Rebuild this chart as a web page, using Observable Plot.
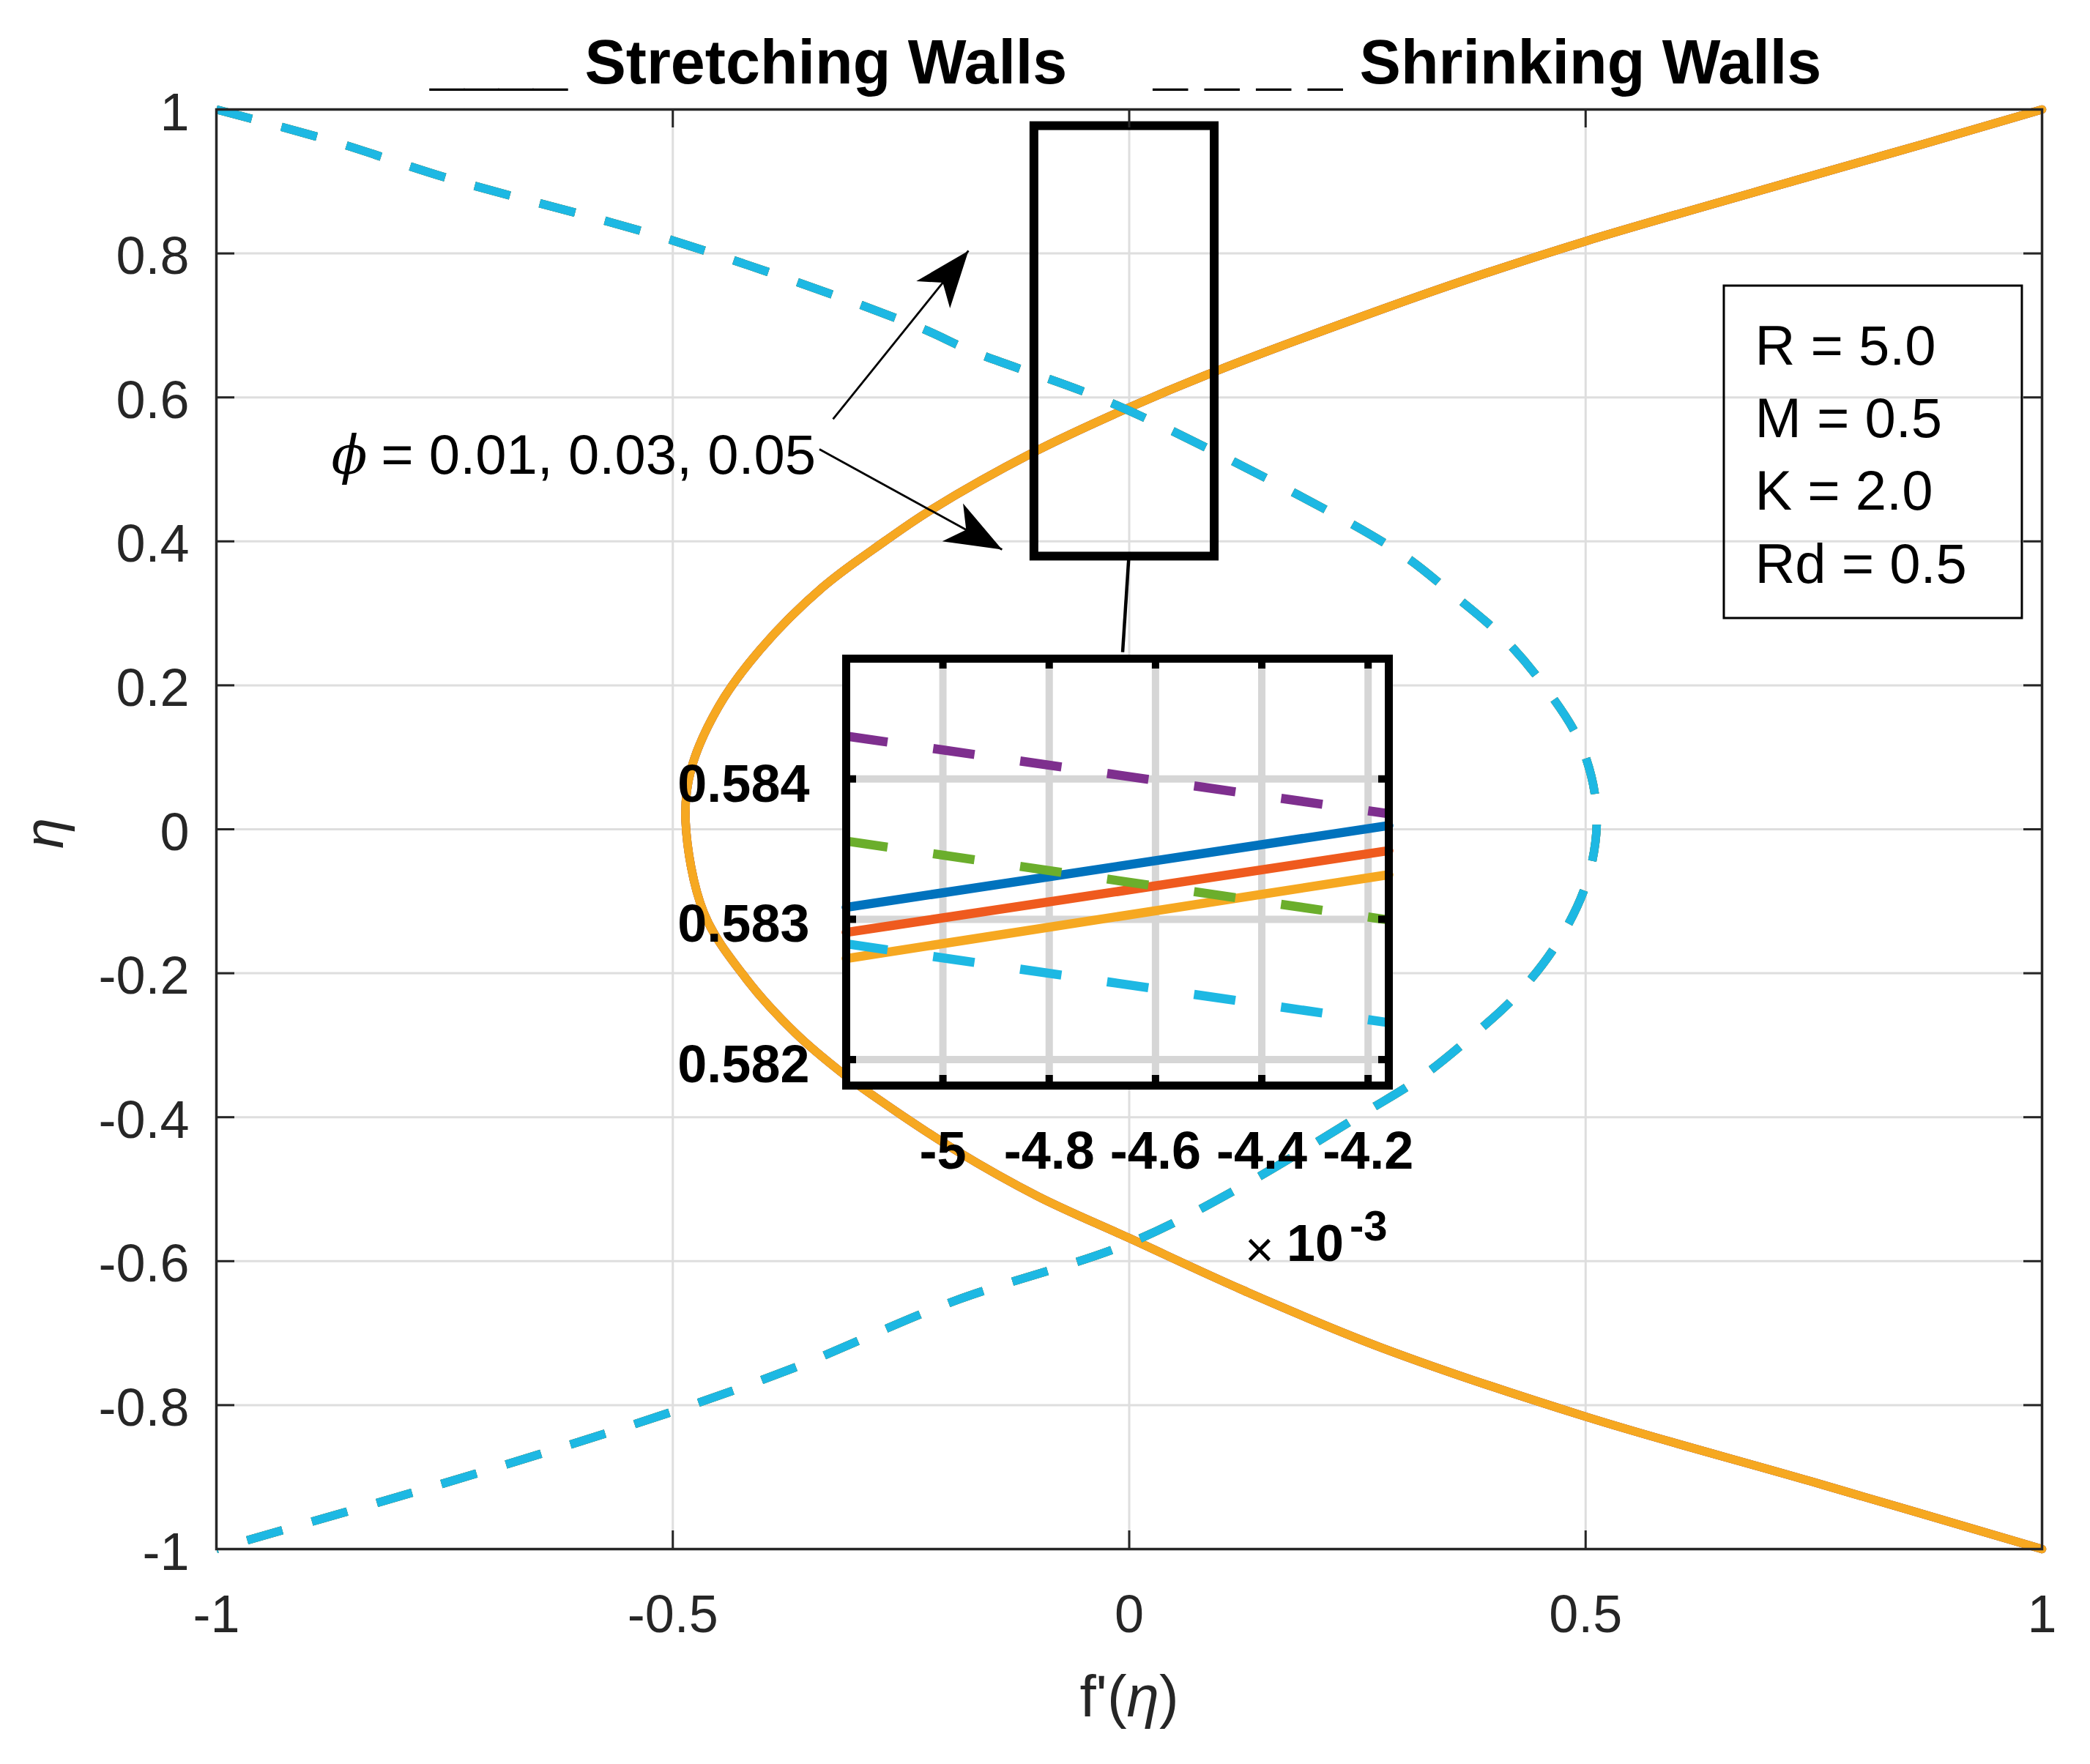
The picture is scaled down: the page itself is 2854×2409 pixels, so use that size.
<!DOCTYPE html>
<html>
<head>
<meta charset="utf-8">
<script src="https://cdn.jsdelivr.net/npm/d3@7"></script>
<script src="https://cdn.jsdelivr.net/npm/@observablehq/plot@0.6"></script>
<style>
  html, body { margin: 0; padding: 0; background: #fff; }
  #wrap { position: relative; width: 2854px; height: 2409px; overflow: hidden; background: #fff; }
  #wrap > svg { position: absolute; }
</style>
</head>
<body>
<div id="wrap"></div>
<script>
// ---------------- data ----------------
const xTicks = [-1, -0.5, 0, 0.5, 1];
const yTicks = [-1, -0.8, -0.6, -0.4, -0.2, 0, 0.2, 0.4, 0.6, 0.8, 1];
const phiValues = [0.01, 0.03, 0.05];

// Stretching walls (solid) : eta vs f'(eta)  (the three phi curves coincide at this scale)
const stretchEta = [1.0, 0.952, 0.905, 0.817, 0.768, 0.722, 0.636, 0.586, 0.523, 0.443, 0.400, 0.336, 0.250, 0.170, 0.083, 0.011, -0.116, -0.207, -0.284, -0.339, -0.374, -0.446, -0.510, -0.568, -0.640, -0.720, -0.816, -0.906, -1.0];
const stretchFp  = [1.0, 0.870, 0.740, 0.500, 0.380, 0.276, 0.094, 0.000, -0.106, -0.218, -0.268, -0.336, -0.404, -0.450, -0.480, -0.486, -0.466, -0.420, -0.365, -0.314, -0.276, -0.190, -0.100, 0.000, 0.124, 0.276, 0.500, 0.747, 1.0];

// Shrinking walls (dashed)
const shrinkEta = [1.0, 0.956, 0.904, 0.818, 0.700, 0.663, 0.600, 0.522, 0.387, 0.328, 0.267, 0.195, 0.117, 0.026, -0.066, -0.152, -0.227, -0.288, -0.347, -0.392, -0.497, -0.575, -0.656, -0.748, -0.808, -0.895, -1.0];
const shrinkFp  = [-1.0, -0.873, -0.745, -0.500, -0.235, -0.170, -0.034, 0.097, 0.293, 0.353, 0.409, 0.457, 0.495, 0.512, 0.503, 0.472, 0.427, 0.375, 0.317, 0.260, 0.122, 0.000, -0.193, -0.367, -0.498, -0.715, -1.0];

// Inset (f' in units of 1e-3)
const insetXTicks = [-5, -4.8, -4.6, -4.4, -4.2];
const insetYTicks = [0.582, 0.583, 0.584];
const insetXDomain = [-5.182, -4.161];
const insetYDomain = [0.581815, 0.584857];
const insetFp = [-5.182, -4.161];
const insetStretch = [ [0.583085, 0.583668], [0.582906, 0.583489], [0.582720, 0.583318] ]; // phi 0.01, 0.03, 0.05
const insetShrink  = [ [0.584305, 0.583752], [0.583557, 0.582995], [0.582825, 0.582263] ];

const stretchColors = ["#0072BD", "#EF5A1E", "#F6A821"];
const shrinkColors  = ["#7E2F8E", "#6BAE2C", "#1DB8E3"];

const paramLabels = ["R = 5.0", "M = 0.5", "K = 2.0", "Rd = 0.5"];
const phiLabel = "= 0.01, 0.03, 0.05";
const titleText = "____ Stretching Walls     _ _ _ _ Shrinking Walls";

// annotation geometry in data units
const zoomBox = [{x1: -0.104, x2: 0.0935, y1: 0.379, y2: 0.977}];
const connector = [{x1: -0.0004, y1: 0.379, x2: -0.0072, y2: 0.246}];
const arrows = [
  {x1: -0.3245, y1: 0.5697, x2: -0.1761, y2: 0.8037},
  {x1: -0.3394, y1: 0.5280, x2: -0.1393, y2: 0.3886}
];
const paramBox = [{x1: 0.6518, x2: 0.9783, y1: 0.2930, y2: 0.7548}];

// ---------------- layout ----------------
const FONT = "'Liberation Sans', Arial, Helvetica, sans-serif";
const W = 2854, H = 2409;
const mL = 295, mR = 66, mT = 149, mB = 294;
const fW = W - mL - mR, fH = H - mT - mB;
const kx = fW / 2, ky = fH / 2;
const tickLen = 25;
const fmt = d => String(d);

const rows = (eta, fp) => eta.map((e, i) => ({eta: e, fp: fp[i]}));
const stretchRows = rows(stretchEta, stretchFp);
const shrinkRows = rows(shrinkEta, shrinkFp);

const arrowHead = {
  draw(ctx) {
    ctx.moveTo(0, 0);
    ctx.lineTo(29.5, 77);
    ctx.lineTo(0, 56);
    ctx.lineTo(-29.5, 77);
    ctx.closePath();
  }
};
const headAngle = d => {
  const sdx = (d.x2 - d.x1) * kx;
  const sdy = -(d.y2 - d.y1) * ky;
  return Math.atan2(sdx, -sdy) * 180 / Math.PI;
};

const main = Plot.plot({
  width: W, height: H,
  marginLeft: mL, marginRight: mR, marginTop: mT, marginBottom: mB,
  x: {domain: [-1, 1]},
  y: {domain: [-1, 1]},
  style: {fontFamily: FONT, fontSize: "72px", color: "#262626", background: "white", overflow: "visible"},
  marks: [
    Plot.ruleX(xTicks, {stroke: "#DEDEDE", strokeWidth: 3}),
    Plot.ruleY(yTicks, {stroke: "#DEDEDE", strokeWidth: 3}),
    ...phiValues.map((phi, k) => Plot.line(stretchRows, {
      x: "fp", y: "eta", stroke: stretchColors[k], strokeWidth: 11.5, curve: "catmull-rom"
    })),
    ...phiValues.map((phi, k) => Plot.line(shrinkRows, {
      x: "fp", y: "eta", stroke: shrinkColors[k], strokeWidth: 11.5, curve: "catmull-rom",
      strokeDasharray: "50,42", strokeLinecap: "butt"
    })),
    Plot.rect(zoomBox, {x1: "x1", x2: "x2", y1: "y1", y2: "y2", fill: "none", stroke: "black", strokeWidth: 12}),
    Plot.link(connector, {x1: "x1", y1: "y1", x2: "x2", y2: "y2", stroke: "black", strokeWidth: 4.5}),
    Plot.link(arrows, {x1: "x1", y1: "y1", x2: "x2", y2: "y2", stroke: "black", strokeWidth: 2.8}),
    Plot.dot(arrows, {x: "x2", y: "y2", symbol: arrowHead, r: 1, fill: "black", stroke: "none", rotate: headAngle}),
    Plot.text(["\u03D5"], {x: -0.8740, y: 0.4934, text: d => d, textAnchor: "start", lineAnchor: "bottom",
      fontSize: 72, fontStyle: "italic", fontFamily: "'DejaVu Serif', 'Liberation Serif', serif", fill: "black"}),
    Plot.text([phiLabel], {x: -0.8196, y: 0.4934, text: d => d, textAnchor: "start", lineAnchor: "bottom",
      fontSize: 76, fill: "black"}),
    Plot.rect(paramBox, {x1: "x1", x2: "x2", y1: "y1", y2: "y2", fill: "none", stroke: "black", strokeWidth: 3}),
    Plot.text([paramLabels.join("\n")], {x: 0.6855, y: 0.7177, text: d => d, textAnchor: "start", lineAnchor: "top",
      lineHeight: 1.307, fontSize: 76, fill: "black"}),
    // inward ticks on all four sides
    Plot.ruleX(xTicks, {stroke: "#262626", strokeWidth: 3, insetTop: fH - tickLen}),
    Plot.ruleX(xTicks, {stroke: "#262626", strokeWidth: 3, insetBottom: fH - tickLen}),
    Plot.ruleY(yTicks, {stroke: "#262626", strokeWidth: 3, insetRight: fW - tickLen}),
    Plot.ruleY(yTicks, {stroke: "#262626", strokeWidth: 3, insetLeft: fW - tickLen}),
    Plot.frame({stroke: "#262626", strokeWidth: 3.5}),
    Plot.axisX({ticks: xTicks, tickSize: 0, tickPadding: 62, tickFormat: fmt, label: null, fontSize: 72}),
    Plot.axisY({ticks: yTicks, tickSize: 0, tickPadding: 37, tickFormat: fmt, label: null, fontSize: 72, dy: 5})
  ]
});
main.style.left = "0px";
main.style.top = "0px";

// ---------------- inset ----------------
const iL = 880, iT = 860;
const imL = 275, imT = 39, imR = 80, imB = 300;
const ifW = 741, ifH = 583;
const iRows = ys => insetFp.map((x, i) => ({x, y: ys[i]}));
const inset = Plot.plot({
  width: imL + ifW + imR, height: imT + ifH + imB,
  marginLeft: imL, marginRight: imR, marginTop: imT, marginBottom: imB,
  x: {domain: insetXDomain},
  y: {domain: insetYDomain},
  style: {fontFamily: FONT, fontSize: "72px", fontWeight: "bold", color: "black", background: "transparent", overflow: "visible"},
  marks: [
    Plot.frame({fill: "white", stroke: "none"}),
    Plot.ruleX(insetXTicks, {stroke: "#D6D6D6", strokeWidth: 10}),
    Plot.ruleY(insetYTicks, {stroke: "#D6D6D6", strokeWidth: 10}),
    ...insetStretch.map((ys, k) => Plot.line(iRows(ys), {x: "x", y: "y", stroke: stretchColors[k], strokeWidth: 12.5})),
    ...insetShrink.map((ys, k) => Plot.line(iRows(ys), {x: "x", y: "y", stroke: shrinkColors[k], strokeWidth: 12.5,
      strokeDasharray: "57,63", strokeLinecap: "butt"})),
    Plot.ruleX(insetXTicks, {stroke: "black", strokeWidth: 10, insetTop: ifH - 14}),
    Plot.ruleX(insetXTicks, {stroke: "black", strokeWidth: 10, insetBottom: ifH - 14}),
    Plot.ruleY(insetYTicks, {stroke: "black", strokeWidth: 10, insetRight: ifW - 14}),
    Plot.ruleY(insetYTicks, {stroke: "black", strokeWidth: 10, insetLeft: ifW - 14}),
    Plot.frame({stroke: "black", strokeWidth: 11}),
    Plot.axisX({ticks: insetXTicks, tickSize: 0, tickPadding: 62, tickFormat: fmt, label: null, fontSize: 72, fontWeight: "bold"}),
    Plot.axisY({ticks: insetYTicks, tickSize: 0, tickPadding: 50, tickFormat: d3.format(".3f"), label: null, fontSize: 72, fontWeight: "bold", dy: 8})
  ]
});
inset.style.left = iL + "px";
inset.style.top = iT + "px";

// ---------------- text overlay (title, axis labels, exponent) ----------------
const NS = "http://www.w3.org/2000/svg";
const over = document.createElementNS(NS, "svg");
over.setAttribute("width", W);
over.setAttribute("height", H);
over.style.left = "0px";
over.style.top = "0px";
over.style.pointerEvents = "none";
over.innerHTML = `
  <g font-family="${FONT.replace(/'/g, "")}">
    <text x="587" y="114" font-size="84.5" font-weight="bold" fill="#000" style="white-space:pre">${titleText}</text>
    <text transform="translate(86,1138) rotate(-90)" text-anchor="middle" font-size="76" font-style="italic" fill="#262626">η</text>
    <text x="1542" y="2344" text-anchor="middle" font-size="80" fill="#262626">f'(<tspan font-style="italic">η</tspan>)</text>
    <text x="1700" y="1730" font-size="68" fill="#000">×</text>
    <text x="1757" y="1722" font-size="70" font-weight="bold" fill="#000">10</text>
    <text x="1843" y="1694" font-size="58" font-weight="bold" fill="#000">-3</text>
  </g>`;

const wrap = document.getElementById("wrap");
wrap.appendChild(main);
wrap.appendChild(inset);
wrap.appendChild(over);
</script>
</body>
</html>
